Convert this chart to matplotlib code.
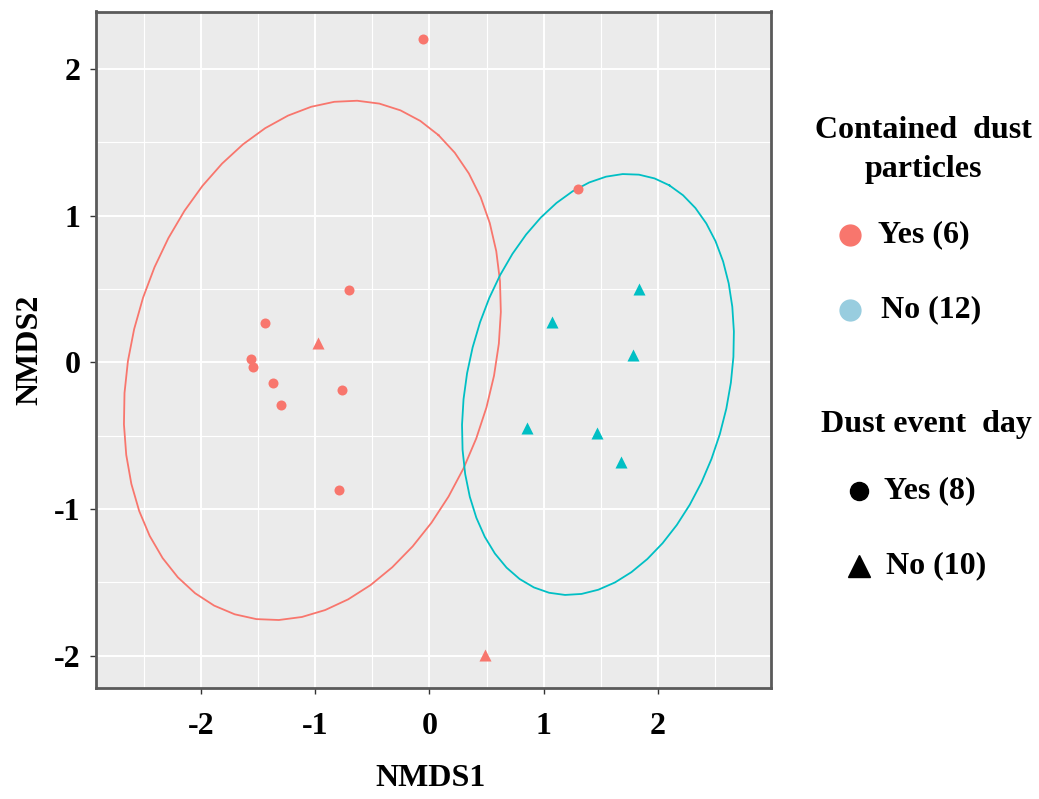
import matplotlib
matplotlib.use("Agg")
import matplotlib.pyplot as plt
import numpy as np
from matplotlib.lines import Line2D
from matplotlib.ticker import MultipleLocator

plt.rcParams['font.family'] = ['Liberation Serif', 'DejaVu Serif']
plt.rcParams['font.weight'] = 'bold'
plt.rcParams['axes.unicode_minus'] = False

# NMDS scores
red_circle_x = [-0.054, 1.297, -0.702, -1.442, -1.564, -1.542, -1.367, -1.297, -0.763, -0.794]
red_circle_y = [2.204, 1.179, 0.491, 0.270, 0.022, -0.034, -0.143, -0.291, -0.189, -0.870]
red_tri_x = [-0.973, 0.486]
red_tri_y = [0.13, -1.995]
cyan_tri_x = [1.833, 1.072, 1.783, 0.856, 1.465, 1.678]
cyan_tri_y = [0.498, 0.277, 0.052, -0.450, -0.484, -0.682]

# ellipse parameters: centre x, centre y, semi-major, semi-minor, angle (deg)
red_ellipse = [-1.025, 0.013, 1.891, 1.510, 54.3]
cyan_ellipse = [1.474, -0.151, 1.494, 1.115, 65.3]

red = '#F8766D'
cyan = '#00BFC4'
fs = 23


def ellipse_path(cx, cy, a, b, ang, n=52):
    t = np.linspace(0, 2 * np.pi, n)
    th = np.deg2rad(ang)
    x = a * np.cos(t)
    y = b * np.sin(t)
    return (cx + x * np.cos(th) - y * np.sin(th),
            cy + x * np.sin(th) + y * np.cos(th))


fig = plt.figure(figsize=(10.39, 7.99), dpi=100)
ax = fig.add_axes([96 / 1039, 1 - 688.3 / 799, (771 - 96) / 1039, (688.3 - 11.5) / 799])
ax.set_facecolor('#EBEBEB')

ax.xaxis.set_major_locator(MultipleLocator(1))
ax.xaxis.set_minor_locator(MultipleLocator(0.5))
ax.yaxis.set_major_locator(MultipleLocator(1))
ax.yaxis.set_minor_locator(MultipleLocator(0.5))
ax.grid(which='major', color='white', lw=1.4, zorder=0)
ax.grid(which='minor', color='white', lw=0.8, zorder=0)
ax.set_axisbelow(True)

ex, ey = ellipse_path(*red_ellipse)
ax.plot(ex, ey, color=red, lw=1.3, zorder=2)
ex, ey = ellipse_path(*cyan_ellipse)
ax.plot(ex, ey, color=cyan, lw=1.3, zorder=2)

ax.scatter(red_circle_x, red_circle_y, s=52, color=red, marker='o', lw=0, zorder=3)
ax.scatter(red_tri_x, red_tri_y, s=75, color=red, marker='^', lw=0, zorder=3)
ax.scatter(cyan_tri_x, cyan_tri_y, s=75, color=cyan, marker='^', lw=0, zorder=3)

ax.set_xlim(-2.918, 2.988)
ax.set_ylim(-2.222, 2.391)
ax.set_xticks([-2, -1, 0, 1, 2])
ax.set_yticks([-2, -1, 0, 1, 2])
ax.tick_params(which='major', length=4, width=1, color='#333333', labelsize=fs)
ax.tick_params(axis='x', pad=13)
ax.tick_params(axis='y', pad=7)
ax.tick_params(which='minor', length=0)
for sp in ax.spines.values():
    sp.set_color('#5A5A5A')
    sp.set_linewidth(2)

ax.set_xlabel('NMDS1', fontsize=fs, fontweight='bold', va='center')
ax.set_ylabel('NMDS2', fontsize=fs, fontweight='bold', va='center')
ax.xaxis.set_label_coords(0.496, (688.3 - 778) / 676.8)
ax.yaxis.set_label_coords((30 - 96) / 675, 0.5)


# legends drawn by hand
def fx(px):
    return px / 1039


def fy(py):
    return 1 - py / 799


fig.text(fx(923), fy(130), 'Contained  dust', fontsize=fs, ha='center', va='center')
fig.text(fx(923), fy(170), 'particles', fontsize=fs, ha='center', va='center')
fig.add_artist(Line2D([fx(850)], [fy(235)], marker='o', ms=15, color='#F8766D',
                      lw=0, transform=fig.transFigure))
fig.text(fx(878), fy(235), 'Yes (6)', fontsize=fs, ha='left', va='center')
fig.add_artist(Line2D([fx(850)], [fy(310)], marker='o', ms=15, color='#98CDDF',
                      lw=0, transform=fig.transFigure))
fig.text(fx(881), fy(310), 'No (12)', fontsize=fs, ha='left', va='center')

fig.text(fx(926), fy(424), 'Dust event  day', fontsize=fs, ha='center', va='center')
fig.add_artist(Line2D([fx(859)], [fy(491)], marker='o', ms=13, color='black',
                      lw=0, transform=fig.transFigure))
fig.text(fx(884), fy(491), 'Yes (8)', fontsize=fs, ha='left', va='center')
fig.add_artist(Line2D([fx(859)], [fy(566)], marker='^', ms=16, color='black',
                      lw=0, transform=fig.transFigure))
fig.text(fx(886), fy(566), 'No (10)', fontsize=fs, ha='left', va='center')

fig.savefig('out.png', dpi=100)
